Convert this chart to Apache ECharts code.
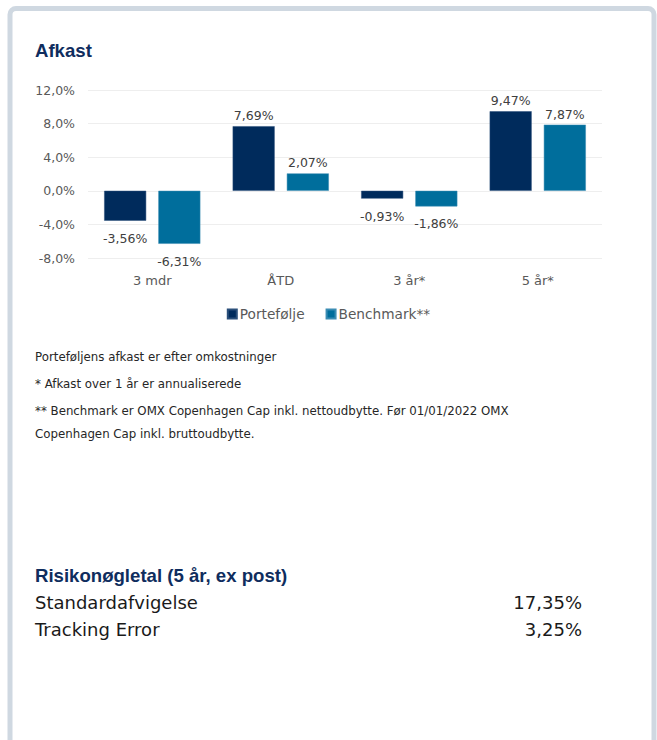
<!DOCTYPE html>
<html>
<head>
<meta charset="utf-8">
<script src="https://cdn.jsdelivr.net/npm/echarts@6/dist/echarts.min.js"></script>
<style>
  html, body { margin: 0; padding: 0; background: #ffffff; }
  #chart { width: 657px; height: 740px; }
</style>
</head>
<body>
<div id="chart"></div>
<script>
const categories = ['3 mdr', 'ÅTD', '3 år*', '5 år*'];
const portefolje = [-3.56, 7.69, -0.93, 9.47];
const benchmark = [-6.31, 2.07, -1.86, 7.87];
const notes = [
    'Porteføljens afkast er efter omkostninger',
    '* Afkast over 1 år er annualiserede',
    '** Benchmark er OMX Copenhagen Cap inkl. nettoudbytte. Før 01/01/2022 OMX',
    'Copenhagen Cap inkl. bruttoudbytte.'
];
const riskNames = ['Standardafvigelse', 'Tracking Error'];
const riskValues = ['17,35%', '3,25%'];

const FONT = '"Century Gothic", "DejaVu Sans", sans-serif';
const BOLD = 'bold 18.6px "Liberation Sans", Arial, sans-serif';
const NAVY = '#002b5c';
const TEAL = '#006e9c';

const fmt = (v, d) => v.toFixed(d).replace('.', ',') + '%';

const chart = echarts.init(document.getElementById('chart'), null, { renderer: 'svg' });

const graphics = [
    {
        type: 'rect',
        shape: { x: 10, y: 8.5, width: 644, height: 760, r: 6 },
        style: { fill: '#ffffff', stroke: '#cfd8e1', lineWidth: 5 },
        z: -10
    },
    {
        type: 'text', left: 35, top: 41,
        style: { text: 'Afkast', font: BOLD, fill: '#0f2d5e' }
    },
    {
        type: 'text', left: 35, top: 566,
        style: { text: 'Risikonøgletal (5 år, ex post)', font: BOLD, fill: '#0f2d5e' }
    }
];

// footnotes
const noteY = [351, 378, 405, 428];
notes.forEach((t, i) => {
    graphics.push({
        type: 'text', left: 35, top: noteY[i],
        style: { text: t, font: '11.8px ' + FONT, fill: '#262626' }
    });
});

// risk table
riskNames.forEach((t, i) => {
    graphics.push({
        type: 'text', left: 35, top: 593 + i * 27,
        style: { text: t, font: '18px ' + FONT, fill: '#1a1a1a' }
    });
    graphics.push({
        type: 'text', right: 75, top: 593 + i * 27,
        style: { text: riskValues[i], font: '18px ' + FONT, fill: '#1a1a1a' }
    });
});

const barLabel = {
    show: true,
    color: '#404040',
    fontSize: 12.5,
    fontFamily: FONT,
    formatter: p => fmt(p.value, 2)
};

function seriesData(values) {
    return values.map(v => ({
        value: v,
        label: v >= 0 ? { position: 'top', distance: 4 } : { position: 'bottom', distance: 11 }
    }));
}

const option = {
    animation: false,
    textStyle: { fontFamily: FONT },
    graphic: graphics,
    grid: { left: 88, right: 55, top: 90, bottom: 482 },
    legend: {
        data: ['Portefølje', 'Benchmark**'],
        top: 302,
        left: 'center',
        itemWidth: 9,
        itemHeight: 9,
        itemGap: 21,
        icon: 'rect',
        textStyle: { color: '#595959', fontSize: 13.7, fontFamily: FONT, padding: [0, 0, 0, -2] }
    },
    xAxis: {
        type: 'category',
        data: categories,
        axisLine: { show: false },
        axisTick: { show: false },
        axisLabel: { color: '#595959', fontSize: 13, fontFamily: FONT, margin: 16 }
    },
    yAxis: {
        type: 'value',
        min: -8,
        max: 12,
        interval: 4,
        axisLabel: { color: '#595959', fontSize: 12.5, fontFamily: FONT, margin: 13, formatter: v => fmt(v, 1) },
        splitLine: { lineStyle: { color: '#eeeeee', width: 1 } }
    },
    series: [
        {
            name: 'Portefølje',
            type: 'bar',
            barWidth: 42,
            barGap: '29%',
            itemStyle: { color: NAVY, borderColor: '#2a4f7a', borderWidth: 0.5 },
            label: barLabel,
            data: seriesData(portefolje)
        },
        {
            name: 'Benchmark**',
            type: 'bar',
            barWidth: 42,
            itemStyle: { color: TEAL, borderColor: '#3a8cb3', borderWidth: 0.5 },
            label: barLabel,
            data: seriesData(benchmark)
        }
    ]
};

chart.setOption(option);
</script>
</body>
</html>
